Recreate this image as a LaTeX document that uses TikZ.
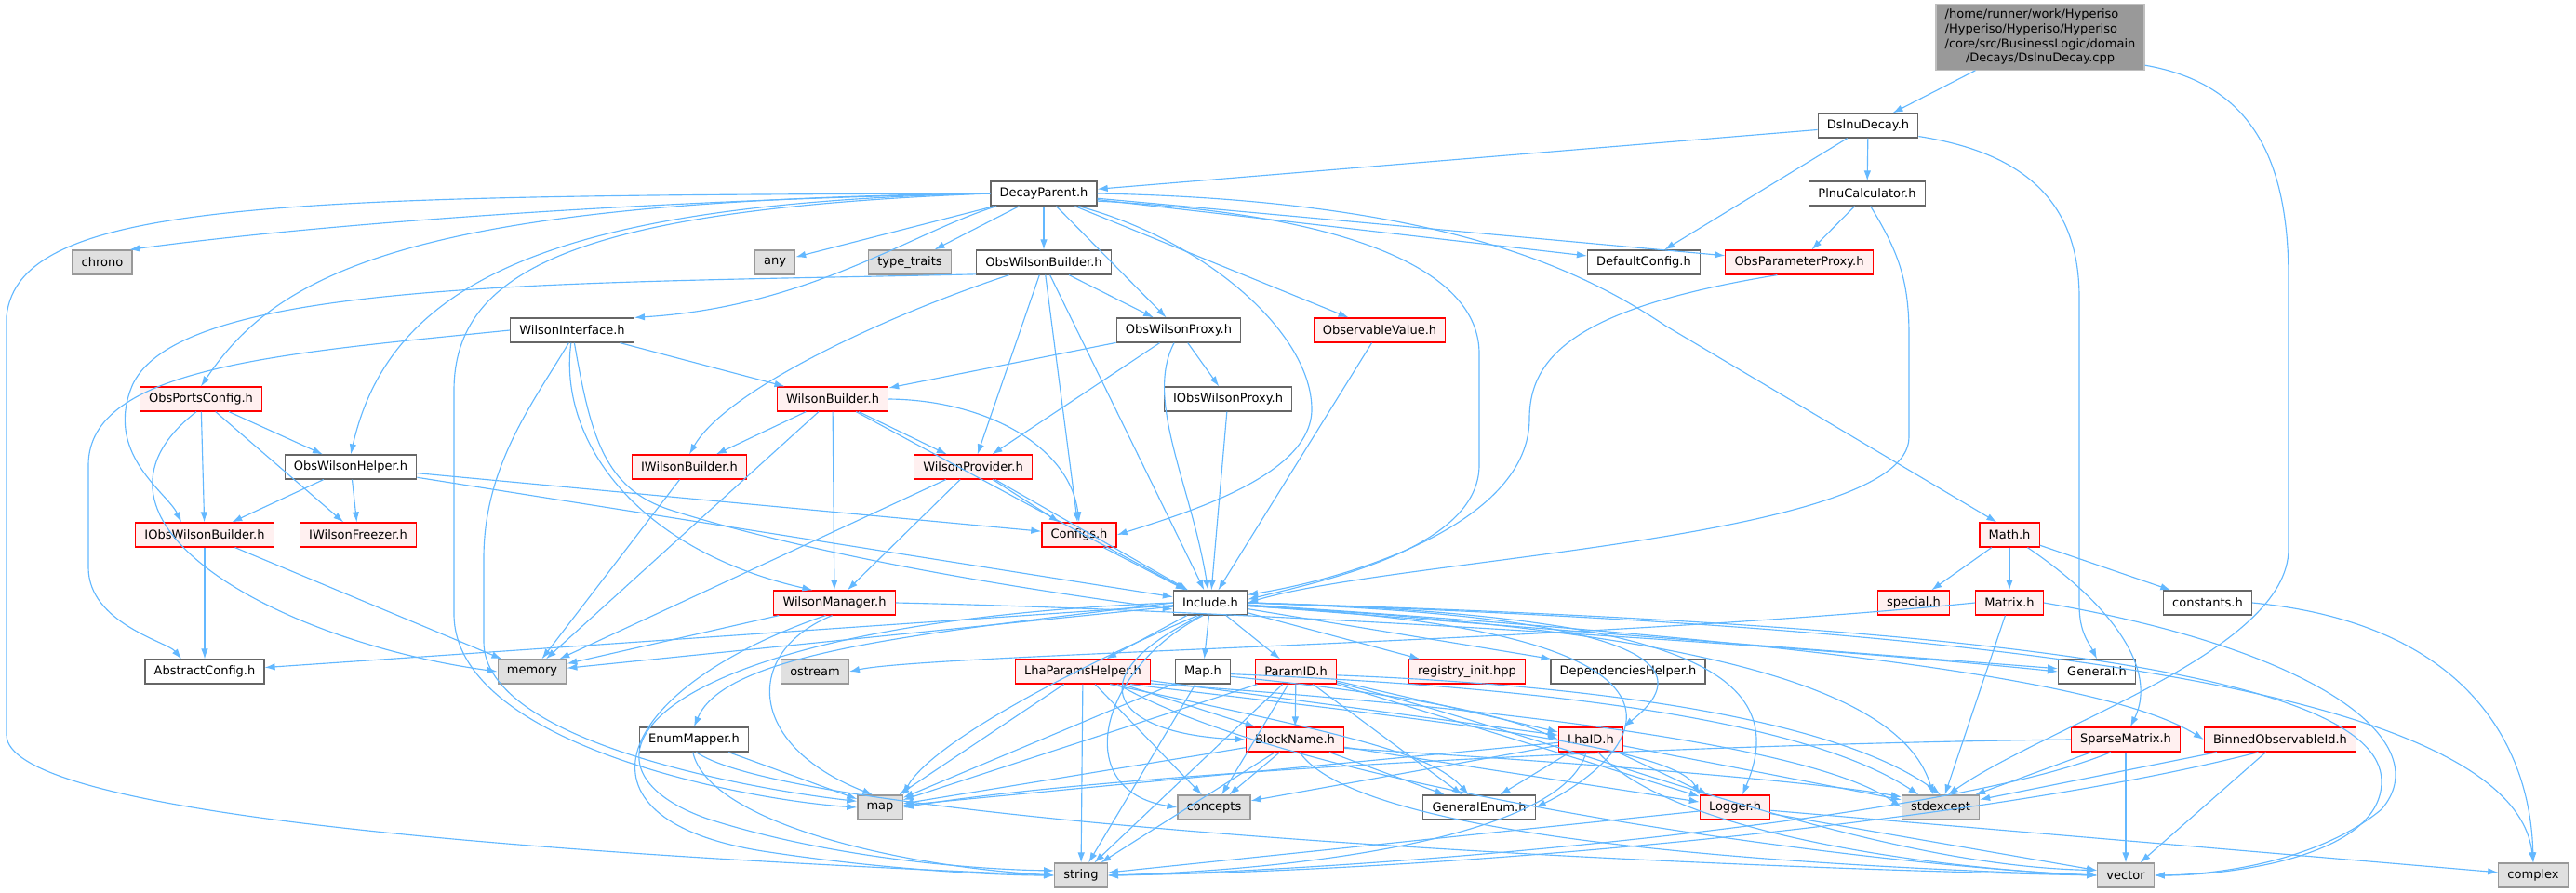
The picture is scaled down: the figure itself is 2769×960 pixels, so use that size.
\documentclass[tikz,border=0pt]{standalone}
\usepackage{fontspec}
\setmainfont{DejaVu Sans}
\usetikzlibrary{arrows.meta}

\definecolor{edgeblue}{HTML}{63B8FF}
\definecolor{boxgray}{HTML}{666666}
\definecolor{sysborder}{HTML}{999999}
\definecolor{sysfill}{HTML}{E0E0E0}
\definecolor{redfill}{HTML}{FFF0F0}
\definecolor{rootfill}{HTML}{999999}
\definecolor{rootborder}{HTML}{BFBFBF}

\begin{document}
\begin{tikzpicture}[x=0.02cm,y=-0.02cm,
    box/.style={rectangle, draw=boxgray, fill=white, line width=0.7pt, minimum height=0.52cm, inner xsep=5.5pt, inner ysep=0pt, font=\fontsize{7.4}{9}\selectfont},
    sysbox/.style={box, draw=sysborder, fill=sysfill},
    redbox/.style={box, draw=red, fill=redfill},
    rootbox/.style={box, draw=rootborder, fill=rootfill, inner ysep=2pt},
    dep/.style={draw=edgeblue, line width=0.65pt, -{Latex[length=0.22cm,width=0.15cm]}}]
    \useasboundingbox (0,0) rectangle (2769,960);

    % Source file
    \node[rootbox] (root) at (2193,40) {\begin{tabular}{@{}l@{}}/home/runner/work/Hyperiso\\/Hyperiso/Hyperiso/Hyperiso\\/core/src/BusinessLogic/domain\\\multicolumn{1}{@{}c@{}}{/Decays/DslnuDecay.cpp}\end{tabular}};

    % Rows 1-3
    \node[box] (dsl) at (2008,135) {DslnuDecay.h};
    \node[box] (dp) at (1122,208) {DecayParent.h};
    \node[box] (plnu) at (2007,208) {PlnuCalculator.h};
    \node[sysbox] (chrono) at (110,282) {chrono};
    \node[sysbox] (any) at (833,282) {any};
    \node[sysbox] (ttraits) at (978,282) {type\_traits};
    \node[box] (owb) at (1122,282) {ObsWilsonBuilder.h};
    \node[box] (dcfg) at (1767,282) {DefaultConfig.h};
    \node[redbox] (opp) at (1934,282) {ObsParameterProxy.h};

    % Rows 4-7
    \node[box] (wi) at (615,355) {WilsonInterface.h};
    \node[box] (owp) at (1267,355) {ObsWilsonProxy.h};
    \node[redbox] (ov) at (1483,355) {ObservableValue.h};
    \node[redbox] (opc) at (216,429) {ObsPortsConfig.h};
    \node[redbox] (wb) at (895,429) {WilsonBuilder.h};
    \node[box] (iowp) at (1320,429) {IObsWilsonProxy.h};
    \node[box] (owh) at (377,502) {ObsWilsonHelper.h};
    \node[redbox] (iwb) at (741,502) {IWilsonBuilder.h};
    \node[redbox] (wp) at (1046,502) {WilsonProvider.h};
    \node[redbox] (iowb) at (220,575) {IObsWilsonBuilder.h};
    \node[redbox] (iwf) at (385,575) {IWilsonFreezer.h};
    \node[redbox] (cfgs) at (1160,575) {Configs.h};
    \node[redbox] (math) at (2160,575) {Math.h};

    % Rows 8-9
    \node[redbox] (wm) at (897,648) {WilsonManager.h};
    \node[box] (inc) at (1301,648) {Include.h};
    \node[redbox] (special) at (2057,648) {special.h};
    \node[redbox] (matrix) at (2160,648) {Matrix.h};
    \node[box] (consts) at (2373,648) {constants.h};
    \node[box] (acfg) at (220,722) {AbstractConfig.h};
    \node[sysbox] (memory) at (572,722) {memory};
    \node[sysbox] (ostream) at (876,722) {ostream};
    \node[redbox] (lph) at (1164,722) {LhaParamsHelper.h};
    \node[box] (maph) at (1293,722) {Map.h};
    \node[redbox] (pid) at (1393,722) {ParamID.h};
    \node[redbox] (reg) at (1577,722) {registry\_init.hpp};
    \node[box] (deph) at (1750,722) {DependenciesHelper.h};
    \node[box] (general) at (2254,722) {General.h};

    % Rows 10-12
    \node[box] (enumm) at (746,795) {EnumMapper.h};
    \node[redbox] (bname) at (1392,795) {BlockName.h};
    \node[redbox] (lhaid) at (1710,795) {LhaID.h};
    \node[redbox] (sparse) at (2285,795) {SparseMatrix.h};
    \node[redbox] (binned) at (2451,795) {BinnedObservableId.h};
    \node[sysbox] (map) at (946,868) {map};
    \node[sysbox] (concepts) at (1305,868) {concepts};
    \node[box] (genum) at (1590,868) {GeneralEnum.h};
    \node[redbox] (logger) at (1865,868) {Logger.h};
    \node[sysbox] (stdexc) at (2086,868) {stdexcept};
    \node[sysbox] (string) at (1162,941) {string};
    \node[sysbox] (vector) at (2285,941) {vector};
    \node[sysbox] (complex) at (2723,941) {complex};

    % bends of the long left edge
    \coordinate (lefttop) at (7,340);
    \coordinate (leftbot) at (7,790);

    % Source file and DslnuDecay.h
    \draw[dep] (root) -- (dsl);
    \draw[dep] (root.-15) .. controls (2420,90) and (2460,170) .. (2460,300) -- (2460,590) .. controls (2460,700) and (2200,780) .. (stdexc.60);
    \draw[dep] (dsl) -- (dp);
    \draw[dep] (dsl) -- (dcfg);
    \draw[dep] (dsl) -- (plnu);
    \draw[dep] (dsl.-12) .. controls (2180,165) and (2235,220) .. (2235,320) -- (2235,650) .. controls (2235,680) and (2245,690) .. (general.north);
    \draw[dep] (plnu) -- (opp);
    \draw[dep] (plnu.-75) .. controls (2040,270) and (2052,300) .. (2052,360) -- (2052,470) .. controls (2052,580) and (1500,600) .. (inc.east);

    % DecayParent.h
    \draw[dep] (dp.west) .. controls (700,215) and (350,240) .. (chrono.25);
    \draw[dep] (dp.west) .. controls (300,210) and (20,215) .. (lefttop) -- (leftbot) .. controls (7,870) and (500,915) .. (string.west);
    \draw[dep] (dp.west) .. controls (450,215) and (300,290) .. (opc.north);
    \draw[dep] (dp.west) .. controls (600,218) and (420,300) .. (owh.north);
    \draw[dep] (dp.west) .. controls (620,225) and (488,290) .. (488,420) -- (488,660) .. controls (488,800) and (800,860) .. (map.west);
    \draw[dep] (dp) -- (any);
    \draw[dep] (dp.-165) .. controls (980,250) and (870,330) .. (wi.north east);
    \draw[dep] (dp) -- (ttraits);
    \draw[dep] (dp) -- (owb);
    \draw[dep] (dp) -- (owp);
    \draw[dep] (dp.-20) .. controls (1300,260) and (1410,360) .. (1410,440) .. controls (1410,510) and (1280,550) .. (cfgs.east);
    \draw[dep] (dp) -- (ov);
    \draw[dep] (dp.-8) .. controls (1450,230) and (1590,290) .. (1590,380) -- (1590,500) .. controls (1590,590) and (1420,625) .. (inc.5);
    \draw[dep] (dp) -- (dcfg);
    \draw[dep] (dp) -- (opp);
    \draw[dep] (dp.east) .. controls (1550,215) and (1700,290) .. (1790,350) -- (math.135);

    % ObsWilsonBuilder.h
    \draw[dep] (owb.-170) .. controls (600,305) and (180,300) .. (140,420) .. controls (115,490) and (180,530) .. ([xshift=-0.5cm]iowb.north);
    \draw[dep] (owb.-160) .. controls (950,340) and (780,420) .. (iwb.north);
    \draw[dep] (owb) -- (wp);
    \draw[dep] (owb) -- (cfgs);
    \draw[dep] (owb) -- (inc);
    \draw[dep] (owb) -- (owp);

    % WilsonInterface.h
    \draw[dep] (wi.west) .. controls (300,380) and (95,395) .. (95,500) -- (95,610) .. controls (95,670) and (180,690) .. ([xshift=-0.5cm]acfg.north);
    \draw[dep] (wi.-105) .. controls (575,430) and (520,500) .. (520,600) -- (520,690) .. controls (520,800) and (820,850) .. (map.165);
    \draw[dep] (wi.-95) .. controls (600,470) and (680,590) .. (wm.150);
    \draw[dep] (wi.-80) .. controls (635,470) and (650,525) .. (720,548) .. controls (900,605) and (1150,640) .. (inc.190);
    \draw[dep] (wi) -- (wb);

    % ObsWilsonProxy.h, ObservableValue.h, ObsParameterProxy.h
    \draw[dep] (owp) -- (wb);
    \draw[dep] (owp) -- (wp);
    \draw[dep] (owp) -- (iowp);
    \draw[dep] (owp.-110) .. controls (1230,430) and (1280,520) .. (inc.100);
    \draw[dep] (iowp) -- (inc);
    \draw[dep] (ov) -- (inc);
    \draw[dep] (opp.-150) .. controls (1700,330) and (1644,380) .. (1644,450) .. controls (1644,560) and (1460,620) .. (inc.12);

    % ObsPortsConfig.h
    \draw[dep] (opc) -- (owh);
    \draw[dep] (opc) -- (iwf);
    \draw[dep] (opc) -- (iowb);
    \draw[dep] (opc.-110) .. controls (60,560) and (300,690) .. (memory.west);

    % WilsonBuilder.h
    \draw[dep] (wb) -- (iwb);
    \draw[dep] (wb) -- (memory);
    \draw[dep] (wb) -- (wm);
    \draw[dep] (wb) -- (wp);
    \draw[dep] (wb) -- (inc);
    \draw[dep] (wb.east) .. controls (1060,430) and (1150,480) .. (cfgs.north);
    \draw[dep] (iwb) -- (memory);

    % ObsWilsonHelper.h
    \draw[dep] (owh) -- (iowb);
    \draw[dep] (owh) -- (iwf);
    \draw[dep] (owh) -- (cfgs);
    \draw[dep] (owh) -- (inc);

    % WilsonProvider.h
    \draw[dep] (wp) -- (wm);
    \draw[dep] (wp) -- (memory);
    \draw[dep] (wp) -- (cfgs);
    \draw[dep] (wp) -- (inc);
    \draw[dep] (iowb) -- (acfg);
    \draw[dep] (iowb) -- (memory);
    \draw[dep] (cfgs) -- (inc);

    % Math.h
    \draw[dep] (math) -- (special);
    \draw[dep] (math) -- (matrix);
    \draw[dep] (math) -- (consts);
    \draw[dep] (math.-35) .. controls (2270,650) and (2320,720) .. (sparse.70);

    % WilsonManager.h
    \draw[dep] (wm) -- (memory);
    \draw[dep] (wm.-100) .. controls (800,700) and (800,800) .. (map.120);
    \draw[dep] (wm.-125) .. controls (660,740) and (600,880) .. (820,915) .. controls (950,935) and (1070,941) .. (string.west);
    \draw[dep] (wm.east) .. controls (1300,655) and (1900,690) .. (general.west);

    % Include.h
    \draw[dep] (inc) -- (acfg);
    \draw[dep] (inc) -- (memory);
    \draw[dep] (inc.west) .. controls (1000,680) and (780,700) .. (enumm.north);
    \draw[dep] (inc.-135) .. controls (1150,720) and (1000,800) .. (map.north east);
    \draw[dep] (inc.west) .. controls (700,670) and (590,820) .. (760,880) .. controls (900,925) and (1060,935) .. (string.170);
    \draw[dep] (inc.-120) .. controls (1180,720) and (1150,850) .. (concepts.west);
    \draw[dep] (inc) -- (lph);
    \draw[dep] (inc) -- (maph);
    \draw[dep] (inc) -- (pid);
    \draw[dep] (inc) -- (reg);
    \draw[dep] (inc) -- (deph);
    \draw[dep] (inc.-125) .. controls (1150,730) and (1200,790) .. (bname.west);
    \draw[dep] (inc) -- (general);
    \draw[dep] (inc.east) .. controls (1700,660) and (1850,700) .. (lhaid.north east);
    \draw[dep] (inc.east) .. controls (1800,660) and (1930,720) .. (logger.60);
    \draw[dep] (inc.-5) .. controls (1900,680) and (1750,820) .. (genum.east);
    \draw[dep] (inc.-5) .. controls (1900,680) and (2050,760) .. (stdexc.120);
    \draw[dep] (inc.-3) .. controls (1800,680) and (2250,720) .. (binned.west);
    \draw[dep] (inc.east) .. controls (2100,670) and (2560,720) .. (2560,840) .. controls (2560,920) and (2400,941) .. (vector.east);
    \draw[dep] (inc.east) .. controls (2000,670) and (2700,720) .. (complex.north);

    % LhaParamsHelper.h
    \draw[dep] (lph) -- (map);
    \draw[dep] (lph) -- (concepts);
    \draw[dep] (lph) -- (bname);
    \draw[dep] (lph) -- (lhaid);
    \draw[dep] (lph.-25) .. controls (1450,790) and (1540,810) .. (genum.130);
    \draw[dep] (lph) -- (string);
    \draw[dep] (lph.-15) .. controls (1500,770) and (1800,800) .. (logger.north west);
    \draw[dep] (lph.-10) .. controls (1600,760) and (1950,800) .. (stdexc.west);
    \draw[dep] (lph.-20) .. controls (1400,850) and (2000,930) .. (vector.west);

    % Map.h
    \draw[dep] (maph) -- (map);
    \draw[dep] (maph) -- (string);
    \draw[dep] (maph.-10) .. controls (1450,740) and (1600,760) .. (lhaid.west);
    \draw[dep] (maph.-5) .. controls (1700,740) and (1950,780) .. (stdexc.150);

    % ParamID.h
    \draw[dep] (pid) -- (bname);
    \draw[dep] (pid) -- (concepts);
    \draw[dep] (pid) -- (string);
    \draw[dep] (pid) -- (map);
    \draw[dep] (pid) -- (genum);
    \draw[dep] (pid) -- (lhaid);
    \draw[dep] (pid) -- (logger);
    \draw[dep] (pid.-5) .. controls (1800,740) and (2000,790) .. (stdexc.north);
    \draw[dep] (pid.-15) .. controls (1700,800) and (2000,930) .. (vector.170);

    % BlockName.h
    \draw[dep] (bname) -- (concepts);
    \draw[dep] (bname) -- (string);
    \draw[dep] (bname) -- (genum);
    \draw[dep] (bname) -- (logger);
    \draw[dep] (bname) -- (map);
    \draw[dep] (bname.-10) .. controls (1700,820) and (1950,840) .. (stdexc.165);
    \draw[dep] (bname.-70) .. controls (1460,900) and (1900,930) .. (vector.west);

    % LhaID.h
    \draw[dep] (lhaid) -- (concepts);
    \draw[dep] (lhaid) -- (genum);
    \draw[dep] (lhaid.-110) .. controls (1680,900) and (1400,935) .. (string.east);
    \draw[dep] (lhaid) -- (logger);
    \draw[dep] (lhaid) -- (map);
    \draw[dep] (lhaid) -- (stdexc);
    \draw[dep] (lhaid.-60) .. controls (1800,900) and (2100,935) .. (vector.west);

    % Logger.h
    \draw[dep] (logger) -- (string);
    \draw[dep] (logger) -- (vector);
    \draw[dep] (logger) -- (complex);

    % SparseMatrix.h and BinnedObservableId.h
    \draw[dep] (sparse) -- (stdexc);
    \draw[dep] (sparse) -- (vector);
    \draw[dep] (sparse.-140) .. controls (2100,880) and (1500,935) .. (string.east);
    \draw[dep] (sparse.west) .. controls (1800,800) and (1200,830) .. (map.east);
    \draw[dep] (binned) -- (stdexc);
    \draw[dep] (binned) -- (vector);
    \draw[dep] (binned.-150) .. controls (2150,880) and (1600,935) .. (string.east);

    % Matrix.h and constants.h
    \draw[dep] (matrix.west) .. controls (1700,690) and (1000,703) .. (ostream.east);
    \draw[dep] (matrix) -- (stdexc);
    \draw[dep] (matrix.east) .. controls (2500,700) and (2620,800) .. (2560,870) .. controls (2500,920) and (2400,940) .. (vector.east);
    \draw[dep] (consts.east) .. controls (2650,670) and (2720,800) .. (complex.north);

    % EnumMapper.h
    \draw[dep] (enumm) -- (map);
    \draw[dep] (enumm.-95) .. controls (760,880) and (950,930) .. (string.west);
    \draw[dep] (enumm.-80) .. controls (850,880) and (1700,930) .. (vector.west);
\end{tikzpicture}
\end{document}
